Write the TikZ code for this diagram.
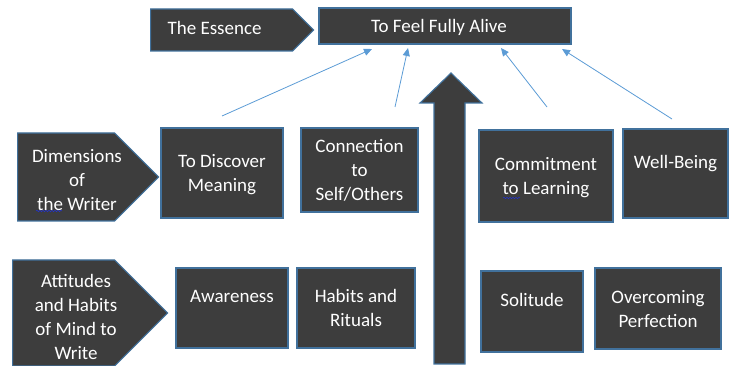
\documentclass[tikz,border=0pt]{standalone}
\usepackage{fontspec}
\setmainfont{Carlito}
\usetikzlibrary{arrows.meta}
\usetikzlibrary{shapes.symbols}
\usetikzlibrary{decorations.pathmorphing}

\definecolor{boxfill}{HTML}{3D3D3D}
\definecolor{boxline}{HTML}{41719C}
\definecolor{linkblue}{HTML}{5B9BD5}
\definecolor{typo}{HTML}{2233CC}

\begin{document}
\begin{tikzpicture}
[x=1pt,y=-1pt,%
  plate/.style={draw=boxline,fill=boxfill,line width=1.1pt,inner sep=0pt},%
  box/.style={plate,text=white,align=center,text depth=-5pt},%
  tag/.style={plate,signal,signal to=east,signal pointer angle=90},%
  tagtext/.style={text=white,align=center},%
  link/.style={draw=linkblue,line width=0.8pt,
    -{Triangle[length=8pt,width=7pt]}},%
  squiggle/.style={typo,line width=0.5pt,
    decorate,decoration={snake,amplitude=0.8pt,segment length=3pt}}]
\fontsize{19}{24}\selectfont
\useasboundingbox (0,0) rectangle (729,366);

% top row
\node[tag,anchor=west,minimum width=163pt,minimum height=42pt] (essence) at (150,30) {};
\node[tagtext,anchor=west] (essence-t) at (161,28) {The Essence};
\node[box,minimum width=252pt,minimum height=36pt,text depth=-8pt] (alive) at (445,26) {To Feel Fully Alive\hspace*{12pt}};

% dimensions of the writer
\node[tag,anchor=west,minimum width=141pt,minimum height=88pt] (dim) at (17,177) {};
\node[tagtext] (dim-t) at (77,180) {Dimensions\\of\\the Writer};
\node[box,minimum width=122pt,minimum height=90pt] (meaning) at (222,173) {To Discover\\Meaning};
\node[box,minimum width=117pt,minimum height=84pt] (connection) at (359.5,170) {Connection\\to\\Self/Others};
\node[box,minimum width=134pt,minimum height=92pt] (commitment) at (546,176) {Commitment\\to Learning};
\node[box,minimum width=105pt,minimum height=89pt] (wellbeing) at (675.5,173.5) {Well-Being\\~};

% attitudes and habits
\node[tag,anchor=west,minimum width=155pt,minimum height=106pt] (att) at (12,313) {};
\node[tagtext] (att-t) at (76,316.5) {Attitudes\\and Habits\\of Mind to\\Write};
\node[box,minimum width=112pt,minimum height=80pt] (awareness) at (232,308) {Awareness\\~};
\node[box,minimum width=118pt,minimum height=80pt] (habits) at (356,308) {Habits and\\Rituals};
\node[box,minimum width=102pt,minimum height=81pt] (solitude) at (532,311.5) {Solitude\\~};
\node[box,minimum width=126pt,minimum height=81pt] (overcoming) at (658,308.5) {Overcoming\\Perfection};

% big arrow up the middle
\draw[plate]
  (434,364) -- (434,103) -- (420,103) -- (451,73) -- (482,103)
  -- (465,103) -- (465,364) -- cycle;

% thin arrows into the top box
\coordinate (from-meaning) at (222,116);
\coordinate (from-connection) at (395,107);
\coordinate (from-commitment) at (547,107);
\coordinate (from-wellbeing) at (672,119);
\coordinate (to-meaning) at (372,49);
\coordinate (to-connection) at (408,48);
\coordinate (to-commitment) at (501,48);
\coordinate (to-wellbeing) at (562,49);
\draw[link] (from-meaning) -- (to-meaning);
\draw[link] (from-connection) -- (to-connection);
\draw[link] (from-commitment) -- (to-commitment);
\draw[link] (from-wellbeing) -- (to-wellbeing);

% spell checker marks
\coordinate (typo-a) at (36,211);
\coordinate (typo-b) at (62,211);
\coordinate (typo-c) at (503,198);
\coordinate (typo-d) at (520,198);
\draw[squiggle] (typo-a) -- (typo-b);
\draw[squiggle] (typo-c) -- (typo-d);
\end{tikzpicture}
\end{document}
